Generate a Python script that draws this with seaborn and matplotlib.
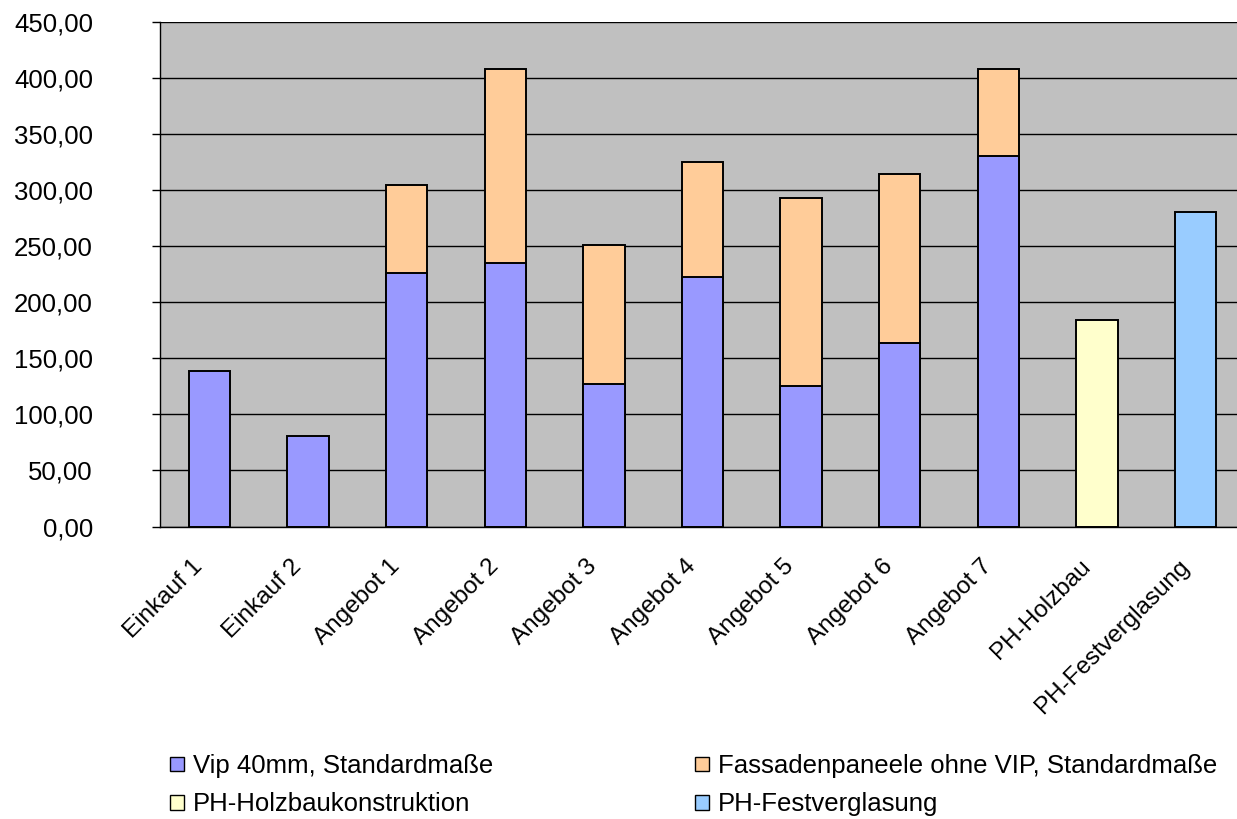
import numpy as np
import pandas as pd
import matplotlib
matplotlib.use("Agg")
import matplotlib.pyplot as plt
from matplotlib.patches import Patch
from matplotlib.ticker import FuncFormatter, FixedLocator
from matplotlib.transforms import ScaledTranslation
import seaborn as sns

# Kosten je Variante
categories = ["Einkauf 1", "Einkauf 2", "Angebot 1", "Angebot 2", "Angebot 3",
              "Angebot 4", "Angebot 5", "Angebot 6", "Angebot 7",
              "PH-Holzbau", "PH-Festverglasung"]
vip_40mm = [139, 81, 226, 235, 127, 222, 125, 164, 330, np.nan, np.nan]
fassadenpaneele = [np.nan, np.nan, 78, 173, 124, 103, 168, 150, 78, np.nan, np.nan]
ph_holzbau = [np.nan] * 9 + [184, np.nan]
ph_festverglasung = [np.nan] * 10 + [280]

series_labels = ["Vip 40mm, Standardmaße", "Fassadenpaneele ohne VIP, Standardmaße",
                 "PH-Holzbaukonstruktion", "PH-Festverglasung"]
colors = ["#9999FF", "#FFCC99", "#FFFFCC", "#99CCFF"]

vip = np.array(vip_40mm, dtype=float)
fas = np.array(fassadenpaneele, dtype=float)
stack_total = np.where(np.isnan(fas), np.nan, np.nan_to_num(vip) + np.nan_to_num(fas))

df = pd.DataFrame({
    "Kategorie": categories,
    "vip": vip,
    "gesamt": stack_total,
    "holz": ph_holzbau,
    "fest": ph_festverglasung,
})

sns.set_style("white")
plt.rcParams["font.family"] = ["Liberation Sans", "DejaVu Sans"]
plt.rcParams["text.color"] = "black"
plt.rcParams["xtick.color"] = "black"
plt.rcParams["ytick.color"] = "black"
FS = 18.5
FS_X = 17.5

fig = plt.figure(figsize=(12.37, 8.19), dpi=100)
ax = fig.add_axes([160 / 1237, 1 - 526.5 / 819, 1085 / 1237, (526.5 - 21.7) / 819])
ax.set_facecolor("#C0C0C0")

bar_kw = dict(order=categories, width=0.42, saturation=1, edgecolor="black",
              linewidth=1.4, ax=ax, errorbar=None, zorder=3)

# gestapelte Säulen: Gesamthöhe (orange) zuerst, darüber der VIP-Anteil
sns.barplot(data=df, x="Kategorie", y="gesamt", color=colors[1], **bar_kw)
sns.barplot(data=df, x="Kategorie", y="vip", color=colors[0], **bar_kw)
sns.barplot(data=df, x="Kategorie", y="holz", color=colors[2], **bar_kw)
sns.barplot(data=df, x="Kategorie", y="fest", color=colors[3], **bar_kw)

ax.set_xlim(-0.5, len(categories) - 0.5)
ax.set_ylim(0, 450)
ax.set_yticks(np.arange(0, 451, 50))
ax.yaxis.set_major_formatter(FuncFormatter(lambda v, p: f"{v:.2f}".replace(".", ",")))
ax.grid(axis="y", color="black", linewidth=1.0, zorder=0)
ax.set_axisbelow(True)
ax.set_xlabel("")
ax.set_ylabel("")

for side in ["top", "right"]:
    ax.spines[side].set_visible(False)
for side in ["left", "bottom"]:
    ax.spines[side].set_color("black")
    ax.spines[side].set_linewidth(1.0)
    ax.spines[side].set_zorder(4)

# Teilstriche zwischen den Kategorien, Beschriftung mittig
ax.xaxis.set_minor_locator(FixedLocator(np.arange(-0.5, len(categories), 1.0)))
ax.tick_params(axis="x", which="minor", length=5.8, width=1, color="black", direction="out")
ax.tick_params(axis="x", which="major", length=0, pad=21, labelsize=FS_X)
ax.tick_params(axis="y", which="major", length=5.8, width=1, color="black",
               direction="out", pad=42.5, labelsize=FS, left=True)
ax.set_xticks(range(len(categories)))
ax.set_xticklabels(categories, rotation=45, ha="right", rotation_mode="anchor")
shift = ScaledTranslation(-18 / 100, 0, fig.dpi_scale_trans)
for lbl in ax.get_xticklabels():
    lbl.set_transform(lbl.get_transform() + shift)

handles = [Patch(facecolor=colors[0], edgecolor="black", linewidth=1.0),
           Patch(facecolor=colors[2], edgecolor="black", linewidth=1.0),
           Patch(facecolor=colors[1], edgecolor="black", linewidth=1.0),
           Patch(facecolor=colors[3], edgecolor="black", linewidth=1.0)]
labels = [series_labels[0], series_labels[2], series_labels[1], series_labels[3]]
fig.legend(handles, labels, ncol=2, loc="upper left",
           bbox_to_anchor=(170 / 1237, 1 - 754 / 819), frameon=False,
           fontsize=FS, handlelength=0.55, handleheight=0.5, handletextpad=0.35,
           columnspacing=7.85, labelspacing=0.56, borderaxespad=0, borderpad=0)

fig.savefig("out.png", dpi=100)
